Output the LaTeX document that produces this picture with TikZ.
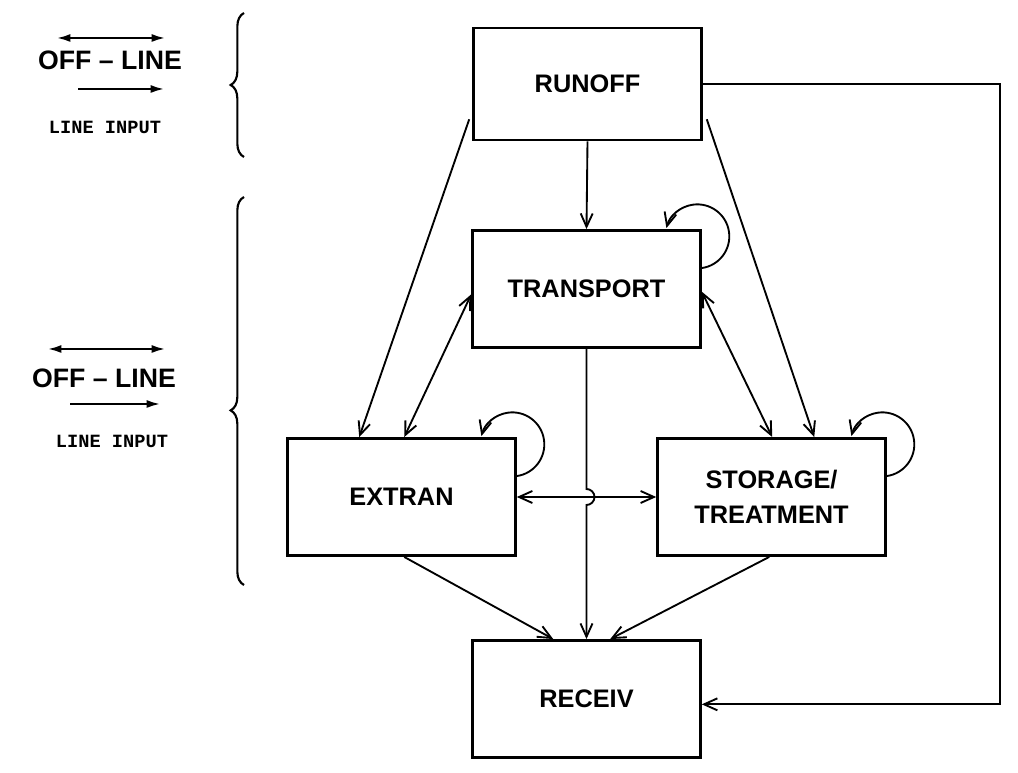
\documentclass[tikz,border=0pt]{standalone}
\usepackage{fontspec}
\usepackage{tikz}
\usetikzlibrary{arrows.meta,calc,decorations.pathreplacing,positioning}
\newfontfamily\blockfont{Liberation Sans}[Ligatures=TeX]
\newfontfamily\notefont{Liberation Mono}
\tikzset{
  block/.style={draw,line width=1.9pt,minimum width=171pt,minimum height=88pt,
    align=center,font=\blockfont\bfseries\fontsize{19}{26}\selectfont},
  flow/.style={-{Straight Barb[length=10pt,width=9pt]},line width=1.4pt},
  biflow/.style={{Straight Barb[length=10pt,width=9pt]}-{Straight Barb[length=10pt,width=9pt]},line width=1.4pt},
  offline/.style={font=\blockfont\bfseries\fontsize{20}{24}\selectfont},
  lineinput/.style={font=\notefont\bfseries\fontsize{14}{16}\selectfont},
  legarrow/.style={-{Latex[length=10pt,width=6pt]},line width=1.5pt},
  legboth/.style={{Latex[length=10pt,width=6pt]}-{Latex[length=10pt,width=6pt]},line width=1.5pt},
  group/.style={decorate,decoration={brace,amplitude=10pt,aspect=#1},line width=1.6pt},
}
\newcommand{\selfloop}[1]{%
  \draw[flow] ([shift={(0,-39)}]#1.north east)
    arc[start angle=-82,end angle=165,radius=32];
}

\begin{document}
\begin{tikzpicture}[x=.75pt,y=.75pt]
  \useasboundingbox (0,0) rectangle (1018,772);

  % models
  \node[block,minimum height=84pt] (runoff) at (587.5,688) {RUNOFF};
  \node[block] (transport) at (586.5,483) {TRANSPORT};
  \node[block] (extran) at (401.5,275) {EXTRAN};
  \node[block] (storage) at (771.5,275) {STORAGE/\\TREATMENT};
  \node[block] (receiv) at (586.5,73) {RECEIV};
  \coordinate (rightrun) at (1000,0);

  % links
  \draw[flow] (runoff.south) -- (transport.north);
  \draw[flow] ([shift={(-3,22)}]runoff.south west) -- ([shift={(73,0)}]extran.north west);
  \draw[flow] ([shift={(4,22)}]runoff.south east) -- ([shift={(158,0)}]storage.north west);
  \draw[flow] (runoff.east) -- (runoff.east -| rightrun) |- ([yshift=-4]receiv.east);
  \draw[biflow] ([yshift=-4]transport.west) -- ([shift={(118,0)}]extran.north west);
  \draw[biflow] ([yshift=-2]transport.east) -- ([shift={(116,0)}]storage.north west);
  \draw[biflow] (extran.east) -- (storage.west);
  \draw[flow] (transport.south) -- ($(transport.south |- extran.east)+(0,8)$)
    arc[start angle=90,end angle=-90,radius=8] -- (receiv.north);
  \draw[flow] ([shift={(118,0)}]extran.south west) -- ([shift={(82,0)}]receiv.north west);
  \draw[flow] ([shift={(113,0)}]storage.south west) -- ([shift={(139,0)}]receiv.north west);
  \selfloop{transport}
  \selfloop{extran}
  \selfloop{storage}

  % key
  \node[offline] (offa) at (110,712) {OFF -- LINE};
  \node[lineinput] (inpa) at (105,645) {LINE INPUT};
  \draw[legboth] ([shift={(-53,22)}]offa.center) -- ([shift={(55,22)}]offa.center);
  \draw[legarrow] ([shift={(-32,-29)}]offa.center) -- ([shift={(54,-29)}]offa.center);
  \node[offline] (offb) at (104,394) {OFF -- LINE};
  \node[lineinput] (inpb) at (112,331) {LINE INPUT};
  \draw[legboth] ([shift={(-56,29)}]offb.center) -- ([shift={(61,29)}]offb.center);
  \draw[legarrow] ([shift={(-34,-26)}]offb.center) -- ([shift={(56,-26)}]offb.center);
  \draw[group=0.5] (244,615) -- (244,759);
  \draw[group=0.45] (244,187) -- (244,575);
\end{tikzpicture}
\end{document}
